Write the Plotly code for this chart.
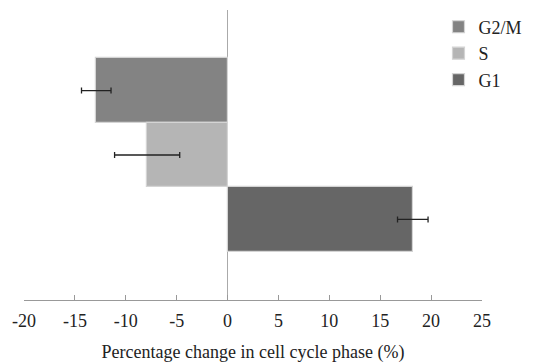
import plotly.graph_objects as go

phases = ["G2/M", "S", "G1"]
values = [-12.9, -7.9, 18.2]
errors = [1.45, 3.2, 1.5]
colors = ["#838383", "#b5b5b5", "#666666"]
x_ticks = [-20, -15, -10, -5, 0, 5, 10, 15, 20, 25]
cat_order = ["G1", "S", "G2/M"]

fig = go.Figure()
for name, v, e, c in zip(phases, values, errors, colors):
    fig.add_trace(go.Bar(
        y=[name], x=[v], name=name, orientation="h", legendgroup=name,
        marker=dict(color=c, line=dict(color="#d4d4d4", width=1.2)),
        width=1,
        error_x=dict(type="data", array=[e], color="#222222", thickness=1.3, width=3),
    ))

font_family = "Liberation Serif, DejaVu Serif, serif"
fig.update_layout(
    width=547, height=355,
    margin=dict(l=16, r=73, t=2, b=63, autoexpand=False),
    paper_bgcolor="white", plot_bgcolor="white",
    barmode="overlay", bargap=0,
    showlegend=True,
    legend=dict(x=0.905, y=1.005, xanchor="left", yanchor="top",
                font=dict(family=font_family, size=18, color="#222"),
                itemwidth=30, tracegroupgap=11, traceorder="normal",
                bgcolor="rgba(0,0,0,0)"),
    font=dict(family=font_family, size=18, color="#222"),
)
fig.update_xaxes(
    range=[-20, 25], tickvals=x_ticks, ticktext=[str(t) for t in x_ticks],
    showgrid=False, showline=True, linecolor="#999999", linewidth=1,
    ticks="inside", ticklen=5, tickcolor="#999999",
    zeroline=True, zerolinecolor="#aaaaaa", zerolinewidth=1,
    ticklabelstandoff=4,
    title=dict(text="Percentage change in cell cycle phase (%)", standoff=16,
               font=dict(family=font_family, size=18)),
    tickfont=dict(family=font_family, size=18),
    automargin=False,
)
fig.update_yaxes(
    type="category", categoryorder="array", categoryarray=cat_order,
    range=[-1.25, 3.25], showticklabels=False, showgrid=False,
    showline=False, zeroline=False, ticks="", automargin=False,
)
fig.write_html("out.html")
